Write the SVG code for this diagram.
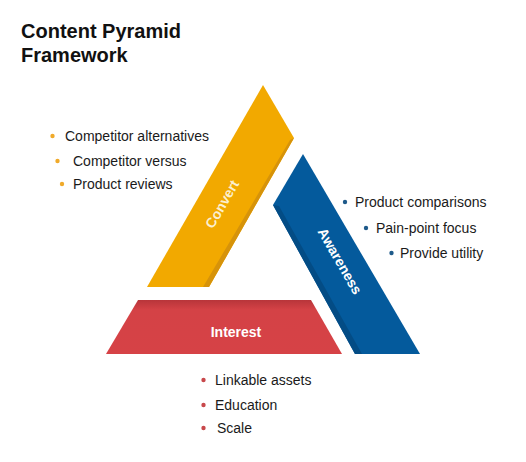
<svg xmlns="http://www.w3.org/2000/svg" width="526" height="462" viewBox="0 0 526 462">
  <defs>
    <linearGradient id="redTop" x1="0" y1="0" x2="0" y2="1">
      <stop offset="0" stop-color="#B8353A"/>
      <stop offset="0.18" stop-color="#D44246"/>
      <stop offset="1" stop-color="#D64246"/>
    </linearGradient>
  </defs>
  <style>
    .title { font-family: "Liberation Sans", Arial, sans-serif; font-weight: bold; font-size: 20px; fill: #111; }
    .item { font-family: "Liberation Sans", Arial, sans-serif; font-size: 14px; fill: #1a1a1a; }
    .label { font-family: "Liberation Sans", Arial, sans-serif; font-weight: bold; font-size: 14px; text-anchor: middle; dominant-baseline: central; }
    .yb { fill: #F0AA2A; }
    .bb { fill: #1E5A8A; }
    .rb { fill: #C8484B; }
  </style>
  <rect width="526" height="462" fill="#ffffff"/>

  <g id="title">
    <text class="title" x="21" y="38">Content Pyramid</text>
    <text class="title" x="21" y="62">Framework</text>
  </g>

  <g id="convert">
    <polygon points="263,85 294,138 209,287 147,287" fill="#F2A900"/>
    <polygon points="294,138 209,287 203,287 290,140" fill="#D6930A"/>
    <text class="label" fill="#FBEFCF" transform="translate(222,204) rotate(-60)">Convert</text>
  </g>

  <g id="awareness">
    <polygon points="303,154 420,354 355,354 273,205" fill="#045A9C"/>
    <polygon points="273,205 355,354 362,354 279,206" fill="#034C85"/>
    <text class="label" fill="#ffffff" transform="translate(340,261) rotate(60)">Awareness</text>
  </g>

  <g id="interest">
    <polygon points="138,300 311,300 342,354 106,354" fill="url(#redTop)"/>
    <text class="label" fill="#ffffff" x="236" y="332">Interest</text>
  </g>

  <g id="convert-list">
    <circle class="yb" cx="52.5" cy="136" r="2.2"/>
    <text class="item" x="65" y="141">Competitor alternatives</text>
    <circle class="yb" cx="57.5" cy="161" r="2.2"/>
    <text class="item" x="73" y="166">Competitor versus</text>
    <circle class="yb" cx="62" cy="184" r="2.2"/>
    <text class="item" x="73" y="189">Product reviews</text>
  </g>

  <g id="awareness-list">
    <circle class="bb" cx="345" cy="202" r="2.2"/>
    <text class="item" x="355" y="207">Product comparisons</text>
    <circle class="bb" cx="366" cy="228" r="2.2"/>
    <text class="item" x="376" y="233">Pain-point focus</text>
    <circle class="bb" cx="391.5" cy="253" r="2.2"/>
    <text class="item" x="400" y="258">Provide utility</text>
  </g>

  <g id="interest-list">
    <circle class="rb" cx="203.5" cy="380" r="2.2"/>
    <text class="item" x="215" y="385">Linkable assets</text>
    <circle class="rb" cx="203.5" cy="405" r="2.2"/>
    <text class="item" x="215" y="410">Education</text>
    <circle class="rb" cx="203.5" cy="428" r="2.2"/>
    <text class="item" x="217" y="433">Scale</text>
  </g>

  <g id="connectors"></g>
</svg>
